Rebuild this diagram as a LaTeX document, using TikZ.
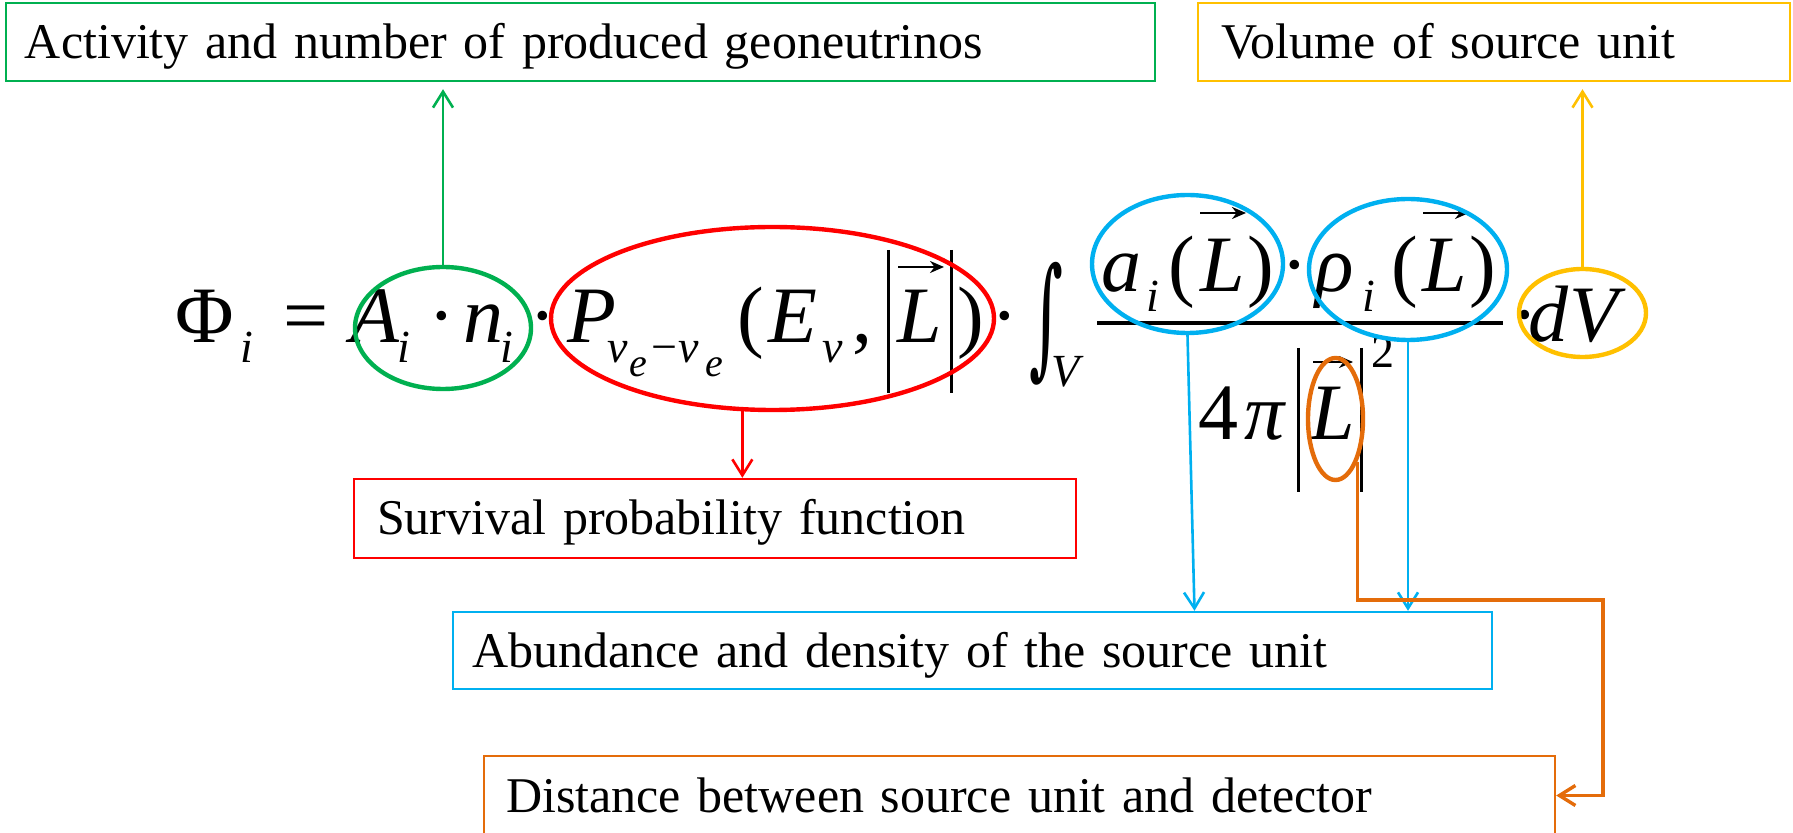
\documentclass[tikz,border=0pt]{standalone}
\usepackage{fontspec}
\usepackage{graphicx}
\setmainfont{Liberation Serif}
\newfontfamily\djv{DejaVu Serif}
\usetikzlibrary{shapes.geometric,arrows.meta}
\definecolor{cgreen}{RGB}{0,176,80}
\definecolor{cred}{RGB}{255,0,0}
\definecolor{cblue}{RGB}{0,176,240}
\definecolor{cyellow}{RGB}{255,192,0}
\definecolor{corange}{RGB}{228,108,10}
\tikzset{
  mi/.style={anchor=base, inner sep=0, font=\fontsize{40pt}{40pt}\selectfont\itshape},
  mu/.style={anchor=base, inner sep=0, font=\fontsize{40pt}{40pt}\selectfont},
  si/.style={anchor=base, inner sep=0, font=\fontsize{23pt}{23pt}\selectfont\itshape},
  su/.style={anchor=base, inner sep=0, font=\fontsize{23pt}{23pt}\selectfont},
  ssi/.style={anchor=base, inner sep=0, font=\fontsize{20pt}{20pt}\selectfont\itshape},
  bar/.style={line width=1.5pt},
  vecarrow/.style={line width=1.3pt, -{Stealth[length=7pt,width=6pt]}},
  lbl/.style={draw, line width=1.2pt, font=\fontsize{25pt}{25pt}\selectfont, align=left,
              text height=16.5pt, text depth=0pt, inner ysep=0pt},
  ell/.style={ellipse, draw, line width=2.2pt, inner sep=0pt},
  conn/.style={line width=1.3pt, -{Straight Barb[length=8pt,width=10pt]}},
}
\begin{document}
\begin{tikzpicture}[x=0.5pt,y=-0.5pt]
\fill[white] (0,0) rectangle (1793,833);
\useasboundingbox (0,0) rectangle (1793,833);

% ---- equation ----
\node[mu] (phi) at (205,343) {Φ};
\node[si] (phii) at (247,363) {i};
\node[mu] (eq) at (306,343) {=};
\node[mi] (A) at (375,343) {A};
\node[si] (Ai) at (404,363) {i};
\node[mu] (d1) at (442,343) {·};
\node[mi] (n) at (483,343) {n};
\node[si] (ni) at (507,363) {i};
\node[mu] (d2) at (543,343) {·};
\node[mi] (P) at (592,343) {P};
\node[si] (nu1) at (618,363) {ν};
\node[ssi] (e1) at (638,377) {e};
\node[su] (minus) at (664,363) {−};
\node[si] (nu2) at (689,363) {ν};
\node[ssi] (e2) at (714,377) {e};
\node[mu] (lp1) at (751,343) {(};
\node[mi] (E) at (793,343) {E};
\node[si] (Enu) at (833,363) {ν};
\node[mu] (comma) at (862,343) {,};
\draw[bar] (888,250) -- (888,393);
\node[mi] (L1) at (920,343) {L};
\draw[vecarrow] (898,267) -- (944,267);
\draw[bar] (951,250) -- (951,393);
\node[mu] (rp1) at (971,343) {)};
\node[mu] (d3) at (1005,343) {·};
\node[anchor=north west, inner sep=0] (int) at (1029,262) {\resizebox*{17pt}{61.5pt}{\djv ∫}};
\node[si] (V) at (1066,387) {V};
% numerator
\node[mi] (a) at (1121,292) {a};
\node[si] (ai) at (1153,312) {i};
\node[mu] (lp2) at (1182,292) {(};
\node[mi] (L2) at (1223,292) {L};
\draw[vecarrow] (1200,213) -- (1246,213);
\node[mu] (rp2) at (1261,292) {)};
\node[mu] (d4) at (1295,292) {·};
\node[mi] (rho) at (1335,292) {ρ};
\node[si] (rhoi) at (1369,312) {i};
\node[mu] (lp3) at (1405,292) {(};
\node[mi] (L3) at (1445,292) {L};
\draw[vecarrow] (1423,213) -- (1469,213);
\node[mu] (rp3) at (1483,292) {)};
\draw[line width=2pt] (1097,323) -- (1503,323);
% denominator
\node[mu] (four) at (1218,440) {4};
\node[mi] (pi) at (1265,440) {π};
\draw[bar] (1298,348) -- (1298,492);
\node[mi] (L4) at (1333,440) {L};
\draw[vecarrow] (1313,362) -- (1353,362);
\draw[bar] (1361,348) -- (1361,492);
\node[su] (sq) at (1383,368) {2};
% dV
\node[mu] (d5) at (1525,342) {·};
\node[mi] (dd) at (1548,342) {d};
\node[mi] (VV) at (1594,342) {V};

% ---- ellipses ----
\node[ell, draw=cgreen, minimum width=88pt, minimum height=61pt] (gE) at (443,328) {};
\node[ell, draw=cred, minimum width=221.5pt, minimum height=91.5pt] (rE) at (772.5,318.5) {};
\node[ell, draw=cblue, minimum width=95.5pt, minimum height=69pt] (b1E) at (1187.5,264) {};
\node[ell, draw=cblue, minimum width=99pt, minimum height=70.5pt] (b2E) at (1408,269.5) {};
\node[ell, draw=cyellow, minimum width=63.5pt, minimum height=44pt] (yE) at (1582.5,313) {};
\node[ell, draw=corange, minimum width=27.5pt, minimum height=61pt] (oE) at (1335.5,419) {};

% ---- label boxes ----
\node[lbl, draw=cgreen, minimum width=574.5pt, minimum height=39pt, inner xsep=9.5pt, text width=555.5pt] (gbox) at (580.5,42) {Activity and number of produced geoneutrinos};
\node[lbl, draw=cyellow, minimum width=296pt, minimum height=39pt, inner xsep=11.5pt, text width=273pt] (ybox) at (1494,42) {Volume of source unit};
\node[lbl, draw=cred, minimum width=361pt, minimum height=39.5pt, inner xsep=11.5pt, text width=338pt] (rbox) at (715,518.5) {Survival probability function};
\node[lbl, draw=cblue, minimum width=519.5pt, minimum height=38.5pt, inner xsep=9.5pt, text width=500.5pt] (bbox) at (972.5,650.5) {Abundance and density of the source unit};
\node[lbl, draw=corange, minimum width=535.5pt, minimum height=39.5pt, inner xsep=11pt, text width=513.5pt] (obox) at (1019.5,795.5) {Distance between source unit and detector};

% ---- connectors ----
\draw[conn, cgreen, shorten >=3.5pt] (gE.north) -- (gE.north |- gbox.south);
\draw[conn, cyellow, shorten >=3.5pt] (yE.north) -- (yE.north |- ybox.south);
\draw[conn, cred] (rE.-108.6) -- (rE.-108.6 |- rbox.north);
\coordinate (b1end) at ([xshift=3.5pt]b1E.south |- bbox.north);
\draw[conn, cblue] (b1E.south) -- (b1end);
\draw[conn, cblue] (b2E.south) -- (b2E.south |- bbox.north);
\coordinate (oturn) at (1603,600);
\draw[conn, corange, line width=1.7pt] (oE.-63) |- (oturn) |- (obox.east);
\end{tikzpicture}
\end{document}
